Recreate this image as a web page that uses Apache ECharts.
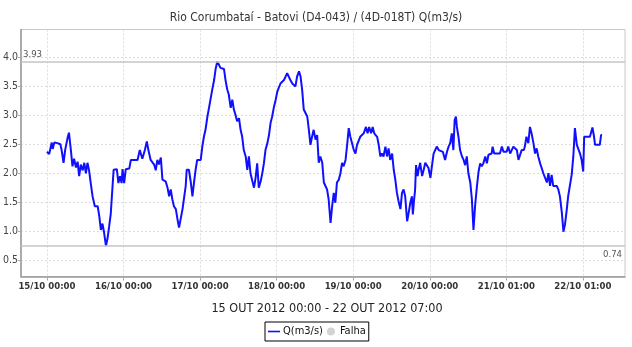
<!DOCTYPE html>
<html>
<head>
<meta charset="utf-8">
<script src="https://cdn.jsdelivr.net/npm/echarts@6/dist/echarts.min.js"></script>
<style>
  html, body { margin: 0; padding: 0; background: #fff; }
  #chart { width: 632px; height: 347px; }
</style>
</head>
<body>
<div id="chart"></div>
<script>
// Flow readings, hours since 15/10/2012 00:00 (fixed -03:00 clock)
const hours = [
  0, 0.7, 1.25, 1.5, 1.8, 2.3, 3.3, 4.2, 4.6, 5.2, 5.7, 6.5, 6.9, 7.5, 8.0, 8.5, 9.1, 9.6, 10.1, 10.6,
  11.2, 11.7, 12.2, 12.7, 13.2, 13.8, 14.3, 15.0, 15.9, 16.4, 16.9, 17.4, 17.9, 18.5, 19.0, 19.5, 20.0, 20.6, 20.9, 21.9,
  22.4, 22.9, 23.4, 23.7, 24.2, 24.7, 25.8, 26.3, 28.4, 29.1, 29.9, 30.7, 31.3, 31.8, 32.5, 33.6, 34.1, 34.6, 35.1, 35.7,
  36.2, 37.2, 37.8, 38.3, 38.8, 39.3, 39.8, 40.4, 40.9, 41.4, 41.9, 42.5, 43.0, 43.5, 43.8, 44.5, 45.1, 45.6, 46.1, 46.6,
  47.1, 48.2, 48.7, 49.2, 49.7, 50.3, 50.8, 51.3, 51.8, 52.4, 52.9, 53.4, 53.9, 54.4, 54.9, 55.5, 56.0, 56.5, 57.0, 57.6,
  58.1, 58.6, 59.1, 59.6, 60.2, 60.7, 61.2, 61.7, 62.3, 62.8, 63.3, 63.8, 64.4, 64.9, 65.4, 65.9, 66.4, 67.0, 67.5, 68.0,
  68.5, 69.1, 69.6, 70.1, 70.6, 71.1, 71.7, 72.2, 73.2, 74.3, 74.8, 75.3, 75.8, 76.3, 76.9, 77.4, 77.9, 78.4, 79.0, 79.5,
  80.0, 80.5, 81.0, 81.6, 82.1, 82.6, 83.1, 83.6, 84.2, 84.7, 85.2, 85.7, 86.3, 86.8, 87.3, 87.8, 88.3, 88.9, 89.4, 89.9,
  90.4, 90.9, 91.5, 92.0, 92.5, 93.0, 93.6, 94.1, 94.6, 95.1, 95.6, 96.2, 96.7, 97.2, 97.7, 98.2, 99.3, 100.0, 100.5, 101.0,
  101.6, 102.1, 102.6, 103.5, 104.0, 104.5, 105.0, 105.5, 106.1, 106.6, 107.1, 107.6, 108.2, 108.7, 109.2, 109.7, 110.2, 110.8, 111.3, 111.8,
  112.3, 112.9, 113.4, 113.9, 114.4, 114.7, 115.1, 115.4, 115.7, 116.2, 116.5, 117.0, 117.6, 118.1, 118.6, 119.1, 119.6, 120.2, 120.7, 121.2,
  122.2, 122.8, 124.1, 124.8, 125.4, 125.9, 126.4, 126.9, 127.4, 127.8, 128.2, 128.5, 129.0, 129.5, 130.1, 130.6, 131.1, 131.6, 132.1, 132.7,
  133.2, 133.7, 134.2, 134.8, 135.3, 135.8, 136.3, 136.8, 137.4, 137.9, 138.4, 138.9, 139.4, 139.7, 140.2, 142.0, 142.6, 143.1, 144.1, 144.6,
  145.2, 145.7, 146.2, 146.7, 147.3, 147.8, 148.3, 148.8, 149.5, 149.8, 150.3, 150.9, 151.4, 151.9, 152.5, 153.0, 153.5, 154.0, 154.6, 155.1,
  155.6, 156.1, 156.7, 157.2, 157.7, 158.2, 158.7, 159.3, 159.8, 160.3, 160.8, 161.4, 161.9, 162.4, 162.9, 163.4, 164.0, 164.5, 165.0, 165.5,
  166.1, 166.6, 167.1, 167.6, 168.1, 168.4, 170.2, 170.7, 171.0, 171.5, 171.8, 173.3, 173.7, 174.0
];
const flow = [
  2.37, 2.33, 2.33, 2.53, 2.42, 2.53, 2.52, 2.50, 2.40, 2.18, 2.40, 2.62, 2.70, 2.40, 2.12, 2.25, 2.10, 2.20, 1.95, 2.15,
  2.05, 2.18, 2.00, 2.18, 2.05, 1.80, 1.60, 1.43, 1.43, 1.26, 1.02, 1.13, 0.98, 0.74, 0.88, 1.08, 1.30, 1.30, 2.06, 2.07,
  1.83, 1.95, 1.83, 2.07, 1.83, 2.07, 2.08, 2.23, 2.23, 2.40, 2.25, 2.40, 2.55, 2.40, 2.23, 2.15, 2.05, 2.23, 2.15, 2.27,
  1.89, 1.86, 1.75, 1.60, 1.72, 1.55, 1.43, 1.38, 1.21, 1.06, 1.09, 1.38, 1.38, 1.78, 2.06, 2.06, 1.84, 1.60, 1.84, 2.06,
  2.23, 2.23, 2.46, 2.63, 2.75, 2.98, 3.13, 3.13, 3.44, 3.61, 3.81, 3.93, 3.90, 3.82, 3.85, 3.80, 3.60, 3.45, 3.36, 3.13,
  3.27, 3.10, 3.01, 2.90, 2.95, 2.75, 2.63, 2.40, 2.29, 2.06, 2.29, 2.00, 1.86, 1.75, 1.92, 2.17, 1.75, 1.86, 2.00, 2.17,
  2.40, 2.52, 2.66, 2.87, 2.98, 3.13, 3.27, 3.41, 3.55, 3.61, 3.67, 3.73, 3.67, 3.61, 3.55, 3.58, 3.50, 3.67, 3.76, 3.67,
  3.44, 3.10, 3.07, 2.98, 2.75, 2.49, 2.63, 2.75, 2.58, 2.66, 2.18, 2.29, 2.18, 1.84, 1.78, 1.72, 1.55, 1.14, 1.43, 1.66,
  1.49, 1.84, 1.89, 2.00, 2.18, 2.12, 2.23, 2.49, 2.78, 2.63, 2.63, 2.40, 2.34, 2.49, 2.49, 2.63, 2.69, 2.80, 2.69, 2.80,
  2.69, 2.80, 2.69, 2.63, 2.49, 2.29, 2.34, 2.29, 2.46, 2.29, 2.43, 2.23, 2.34, 2.06, 1.89, 1.66, 1.52, 1.38, 1.66, 1.72,
  1.60, 1.17, 1.32, 1.49, 1.60, 1.29, 1.55, 1.71, 2.14, 1.95, 2.06, 2.18, 1.95, 2.06, 2.18, 2.21, 2.09, 1.92, 1.95, 2.34,
  2.46, 2.40, 2.37, 2.23, 2.37, 2.46, 2.52, 2.69, 2.40, 2.92, 2.98, 2.80, 2.63, 2.40, 2.29, 2.23, 2.14, 2.29, 2.00, 1.84,
  1.55, 1.02, 1.43, 1.78, 2.03, 2.17, 2.12, 2.17, 2.29, 2.17, 2.32, 2.29, 2.34, 2.46, 2.34, 2.34, 2.46, 2.37, 2.37, 2.46,
  2.34, 2.40, 2.46, 2.49, 2.40, 2.23, 2.26, 2.40, 2.40, 2.46, 2.63, 2.52, 2.80, 2.69, 2.52, 2.34, 2.43, 2.29, 2.17, 2.14,
  2.00, 1.97, 1.84, 2.00, 1.78, 1.97, 1.78, 1.75, 1.78, 1.72, 1.60, 1.32, 0.99, 1.12, 1.35, 1.61, 1.64, 1.98, 2.29, 2.78,
  2.49, 2.46, 2.34, 2.23, 2.03, 2.63, 2.63, 2.66, 2.79, 2.63, 2.49, 2.49, 2.66, 2.66
];

// Day ticks (24 h apart; the 21/10 shift to summer time shows as 01:00)
const tickHours = [0, 24, 48, 72, 96, 120, 144, 168];
const tickLabels = ['15/10 00:00', '16/10 00:00', '17/10 00:00', '18/10 00:00',
                    '19/10 00:00', '20/10 00:00', '21/10 01:00', '22/10 01:00'];
const yTicks = [0.5, 1.0, 1.5, 2.0, 2.5, 3.0, 3.5, 4.0];

const titleText = 'Rio Corumbataí - Batovi (D4-043) / (4D-018T) Q(m3/s)';
const periodText = '15 OUT 2012 00:00 - 22 OUT 2012 07:00';
const seriesName = 'Q(m3/s)';
const gapName = 'Falha';

const points = hours.map((h, i) => [h, flow[i]]);
const peak = Math.max(...flow);
const low = Math.min(...flow);

const FONT = '"DejaVu Sans Condensed", "DejaVu Sans", sans-serif';

const chart = echarts.init(document.getElementById('chart'), null, { renderer: 'canvas' });
chart.setOption({
  animation: false,
  backgroundColor: '#ffffff',
  textStyle: { fontFamily: FONT },
  title: [
    {
      text: titleText, left: 'center', top: 7,
      textStyle: { fontFamily: FONT, fontSize: 12, fontWeight: 'normal', color: '#333' }
    },
    {
      text: periodText, left: 322, top: 297, textAlign: 'center',
      textStyle: { fontFamily: FONT, fontSize: 12.5, fontWeight: 'normal', color: '#222' }
    }
  ],
  grid: {
    left: 20, right: 7, top: 29.5, height: 247,
    show: true, borderColor: '#c8c8c8', borderWidth: 1, backgroundColor: '#fff'
  },
  legend: {
    left: 265, top: 322, width: 100,
    padding: [4, 3, 4, 3],
    borderColor: '#000', borderWidth: 1,
    itemGap: 4, itemWidth: 12, itemHeight: 8,
    textStyle: { fontFamily: FONT, fontSize: 11, color: '#111', padding: [0, 0, 0, -2] },
    data: [
      { name: seriesName, icon: 'path://M0,0 L12,0 L12,1.6 L0,1.6 Z' },
      { name: gapName, icon: 'circle' }
    ]
  },
  xAxis: {
    type: 'value', min: -8.13, max: 181.2,
    axisLine: { show: true, onZero: false, lineStyle: { color: '#999', width: 1.5 } },
    axisTick: { show: true, length: 4, lineStyle: { color: '#aaa' }, customValues: tickHours },
    axisLabel: {
      customValues: tickHours, margin: 5,
      fontFamily: FONT, fontSize: 9.5, fontWeight: 'bold', color: '#333',
      formatter: v => tickLabels[tickHours.indexOf(Math.round(v))] || ''
    },
    splitLine: { show: true, lineStyle: { color: '#dcdcdc', type: [2, 2], width: 1 } }
  },
  yAxis: {
    type: 'value', min: 0.216, max: 4.483,
    axisLine: { show: true, onZero: false, lineStyle: { color: '#999', width: 1.5 } },
    axisTick: { show: true, length: 3, lineStyle: { color: '#aaa' }, customValues: yTicks },
    axisLabel: {
      customValues: yTicks, margin: 3,
      fontFamily: FONT, fontSize: 10.5, color: '#444',
      formatter: v => v.toFixed(1)
    },
    splitLine: { show: true, lineStyle: { color: '#dcdcdc', type: [2, 2], width: 1 } }
  },
  series: [
    {
      name: seriesName, type: 'line', data: points,
      symbol: 'none', color: '#1010ff',
      lineStyle: { color: '#1010ff', width: 2 },
      markLine: {
        silent: true, symbol: 'none',
        lineStyle: { color: '#c4c4c4', width: 1.5, type: 'solid' },
        data: [
          { yAxis: peak, label: { position: 'insideStartTop', distance: [2, 2] } },
          { yAxis: low, label: { position: 'insideEndBottom', distance: [3, 3] } }
        ],
        label: {
          formatter: p => p.value.toFixed(2),
          fontFamily: FONT, fontSize: 9.5, color: '#555'
        }
      }
    },
    {
      name: gapName, type: 'scatter', data: [],
      color: '#c8c8c8', symbol: 'circle'
    }
  ]
});
</script>
</body>
</html>
